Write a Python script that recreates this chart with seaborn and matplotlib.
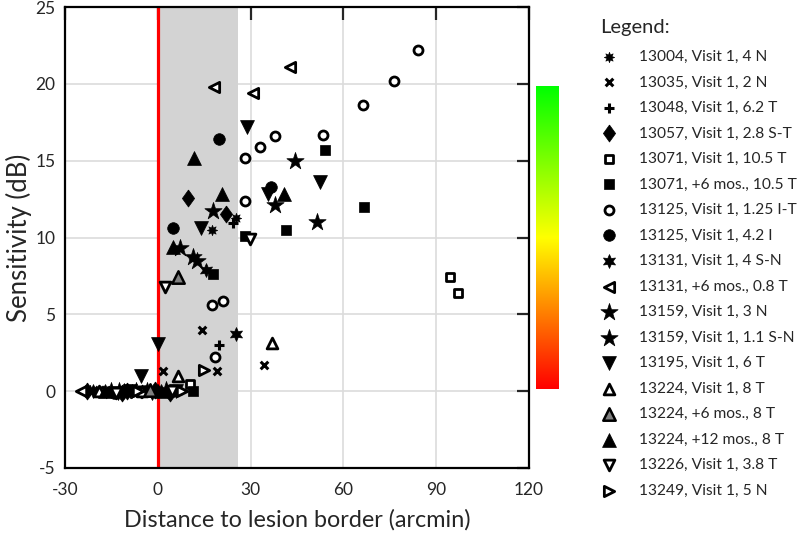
import matplotlib.pyplot as plt
import numpy as np
import pandas as pd
import seaborn as sns
from matplotlib.colors import LinearSegmentedColormap

# Datos: distancia (arcmin) y sensibilidad (dB) por ojo/visita
s13004_x = [25.2, 17.4, -22.0, -12.0, -3.0, 6.5]
s13004_y = [11.3, 10.5, 0.1, 0.0, 0.1, 0.0]

s13035_x = [14.4, 34.3, 19.0, 1.7, -20.0, -16.6, -8.0, 2.0, -19.0]
s13035_y = [4.0, 1.7, 1.3, 1.3, 0.0, 0.1, 0.0, 0.0, 0.1]

s13048_x = [24.4, 19.7, -16.0, -6.0, 3.0]
s13048_y = [10.95, 3.0, 0.0, 0.1, 0.0]

s13057_x = [9.8, 21.9, -23.0, -10.0, -1.0, 4.0, -11.5]
s13057_y = [12.6, 11.5, 0.0, 0.0, 0.1, -0.1, -0.1]

s13071a_x = [94.4, 97.1, 10.3]
s13071a_y = [7.46, 6.4, 0.45]

s13071b_x = [54.0, 66.6, 41.4, 28.1, 17.9, 11.4]
s13071b_y = [15.7, 12.0, 10.5, 10.1, 7.6, 0.0]

s13125a_x = [84.0, 76.4, 66.2, 53.5, 37.8, 33.0, 28.3, 28.1, 21.1, 17.4, 18.4]
s13125a_y = [22.2, 20.2, 18.6, 16.7, 16.6, 15.9, 15.2, 12.4, 5.9, 5.6, 2.2]

s13125b_x = [19.8, 36.5, 5.0, -14.0, -4.0, 5.0]
s13125b_y = [16.4, 13.3, 10.6, -0.1, 0.0, 0.0]

s13131a_x = [15.7, 25.2, -21.0, -11.0, 0.0, -8.5]
s13131a_y = [7.9, 3.7, 0.0, 0.1, 0.0, 0.0]

s13131b_x = [42.7, 18.1, 30.8, -24.7]
s13131b_y = [21.1, 19.8, 19.4, 0.0]

s13159a_x = [44.3, 51.5, 17.9, 11.4, -12.5]
s13159a_y = [15.0, 11.0, 11.7, 8.7, 0.0]

s13159b_x = [37.8, 7.1, 12.6, -15.0, -7.0, 2.5, -3.5]
s13159b_y = [12.1, 9.3, 8.5, 0.0, 0.0, 0.1, 0.0]

s13195_x = [28.9, 52.4, 35.7, 14.1, 0.0, -5.3, -13.0, -9.0, -2.0, 6.0]
s13195_y = [17.2, 13.6, 12.8, 10.6, 3.1, 1.0, -0.1, 0.0, -0.1, 0.0]

s13224a_x = [36.8, 6.6, -19.0, -5.0]
s13224a_y = [3.15, 1.0, 0.0, 0.0]

s13224b_x = [6.6, -2.6]
s13224b_y = [7.4, 0.1]

s13224c_x = [11.7, 20.6, 40.7, 5.0, -17.0, 1.0]
s13224c_y = [15.2, 12.8, 12.8, 9.4, 0.0, 0.0]

s13226_x = [29.7, 2.3, -13.5, 4.5]
s13226_y = [9.9, 6.8, -0.1, 0.0]

s13249_x = [14.9, 7.7, -6.5]
s13249_y = [1.4, 0.0, 0.0]

labels = [
    "13004, Visit 1, 4 N", "13035, Visit 1, 2 N", "13048, Visit 1, 6.2 T",
    "13057, Visit 1, 2.8 S-T", "13071, Visit 1, 10.5 T", "13071, +6 mos., 10.5 T",
    "13125, Visit 1, 1.25 I-T", "13125, Visit 1, 4.2 I", "13131, Visit 1, 4 S-N",
    "13131, +6 mos., 0.8 T", "13159, Visit 1, 3 N", "13159, Visit 1, 1.1 S-N",
    "13195, Visit 1, 6 T", "13224, Visit 1, 8 T", "13224, +6 mos., 8 T",
    "13224, +12 mos., 8 T", "13226, Visit 1, 3.8 T", "13249, Visit 1, 5 N",
]
xs = [s13004_x, s13035_x, s13048_x, s13057_x, s13071a_x, s13071b_x, s13125a_x,
      s13125b_x, s13131a_x, s13131b_x, s13159a_x, s13159b_x, s13195_x, s13224a_x,
      s13224b_x, s13224c_x, s13226_x, s13249_x]
ys = [s13004_y, s13035_y, s13048_y, s13057_y, s13071a_y, s13071b_y, s13125a_y,
      s13125b_y, s13131a_y, s13131b_y, s13159a_y, s13159b_y, s13195_y, s13224a_y,
      s13224b_y, s13224c_y, s13226_y, s13249_y]

diamond = [(0, 1), (0.72, 0), (0, -1), (-0.72, 0), (0, 1)]
# estilo de cada serie: marcador, relleno, tamano, grosor de borde
styles = [
    ((8, 1, 0), "black", 55, 0.5),
    ("x", "black", 30, 2.2),
    ("+", "black", 55, 2.2),
    (diamond, "black", 150, 0.5),
    ("s", "white", 38, 2.0),
    ("s", "black", 55, 0.5),
    ("o", "white", 42, 2.0),
    ("o", "black", 70, 0.5),
    ((6, 1, 0), "black", 100, 0.5),
    ("<", "white", 55, 2.0),
    ("*", "black", 170, 0.5),
    ("*", "black", 170, 0.5),
    ("v", "black", 100, 0.5),
    ("^", "white", 60, 2.0),
    ("^", "#808080", 80, 1.8),
    ("^", "black", 100, 0.5),
    ("v", "white", 60, 2.0),
    (">", "white", 55, 2.0),
]

sns.set_style("white")
plt.rcParams['font.family'] = ['Lato', 'DejaVu Sans']

fig = plt.figure(figsize=(8, 5.34), dpi=100)
ax = fig.add_axes([65 / 800, 1 - 468 / 534, 464 / 800, 461 / 534])

ax.axvspan(0, 26, color="#d3d3d3", lw=0, zorder=1)
ax.axvline(0, color="red", lw=2.3, zorder=2)

for i, lab in enumerate(labels):
    m, fc, s, lw = styles[i]
    df = pd.DataFrame({"x": xs[i], "y": ys[i]})
    if m in ("x", "+"):
        sns.scatterplot(data=df, x="x", y="y", ax=ax, marker=m, color="black",
                        s=s, linewidth=lw, label=lab, zorder=3)
    else:
        sns.scatterplot(data=df, x="x", y="y", ax=ax, marker=m, facecolor=fc,
                        edgecolor="black", s=s, linewidth=lw, label=lab, zorder=3)

handles, labs = ax.get_legend_handles_labels()
if ax.get_legend() is not None:
    ax.get_legend().remove()

ax.set_xlim(-30, 120)
ax.set_ylim(-5, 25)
ax.set_xticks([-30, 0, 30, 60, 90, 120])
ax.set_yticks([-5, 0, 5, 10, 15, 20, 25])
ax.set_xticklabels(["-30", "0", "30", "60", "90", "120"])
ax.set_yticklabels(["-5", "0", "5", "10", "15", "20", "25"])
ax.grid(True, color="#dcdcdc", lw=1.2)
ax.set_axisbelow(True)
for sp in ax.spines.values():
    sp.set_linewidth(1.6)
    sp.set_color("black")
ax.tick_params(direction="in", length=9, width=1.6, top=True, right=True,
               labelsize=12.5)
ax.tick_params(axis="x", pad=10)
ax.tick_params(axis="y", pad=7)
ax.set_xlabel("Distance to lesion border (arcmin)", fontsize=16.8, labelpad=8)
ax.set_ylabel("Sensitivity (dB)", fontsize=18.5, labelpad=2)

# barra de color
cmap = LinearSegmentedColormap.from_list("ryg", ["#ff0000", "#ffff00", "#00ff00"])
cax = fig.add_axes([536 / 800, 1 - 389 / 534, 23 / 800, 303 / 534])
cax.imshow(np.linspace(0, 1, 256).reshape(-1, 1), cmap=cmap, aspect="auto", origin="lower")
cax.axis("off")

fig.text(600 / 800, 1 - 27 / 534, "Legend:", fontsize=14.5, va="center", ha="left")
fig.legend(handles, labs, loc="upper left", bbox_to_anchor=(593 / 800, 1 - 50 / 534),
           frameon=False, fontsize=11.2, labelspacing=0.74, handlelength=2.0,
           handletextpad=0.95, borderpad=0, borderaxespad=0, markerscale=1.0)

plt.savefig("out.png", dpi=100)
